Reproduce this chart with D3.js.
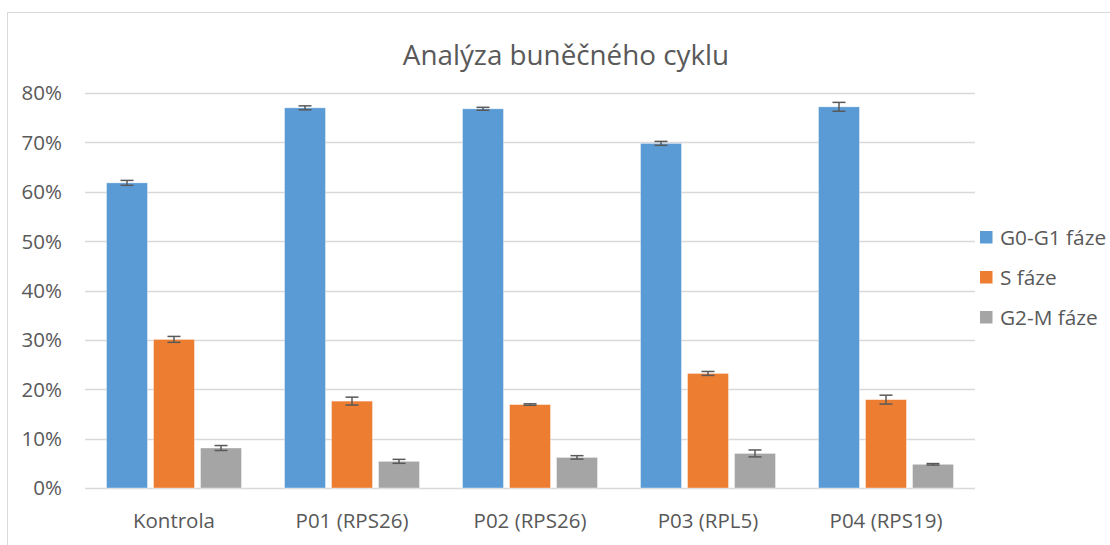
<!DOCTYPE html>
<html><head><meta charset="utf-8">
<script src="https://cdn.jsdelivr.net/npm/d3@7"></script>
<style>body{margin:0;background:#fff}svg{display:block}text{font-family:"Open Sans",Lato,sans-serif}</style>
</head><body>
<svg id="c" width="1110" height="545"></svg>
<script>
const categories = ["Kontrola","P01 (RPS26)","P02 (RPS26)","P03 (RPL5)","P04 (RPS19)"];
const seriesNames = ["G0-G1 fáze","S fáze","G2-M fáze"];
const colors = ["#5b9bd5","#ed7d31","#a5a5a5"];
const g0g1 = [61.8,77.0,76.8,69.8,77.2];
const sPhase = [30.1,17.6,16.9,23.2,17.9];
const g2m = [8.1,5.4,6.2,7.0,4.8];
const g0g1Err = [0.5,0.4,0.3,0.4,0.9];
const sErr = [0.6,0.8,0.15,0.4,0.9];
const g2mErr = [0.5,0.4,0.35,0.7,0.15];
const yTicks = [0,10,20,30,40,50,60,70,80];

const values = [g0g1, sPhase, g2m];
const errs = [g0g1Err, sErr, g2mErr];
const svg = d3.select("#c");
const L=85,R=975,T=93,B=488;

svg.append("rect").attr("x",7.5).attr("y",12.5).attr("width",1120).attr("height",560)
  .attr("fill","none").attr("stroke","#d9d9d9");

const y = d3.scaleLinear().domain([0,80]).range([B,T]);
const x0 = d3.scaleBand().domain(categories).range([L,R]).paddingInner(0.2416).paddingOuter(0.1208);
const x1 = d3.scaleBand().domain(d3.range(3)).range([0,x0.bandwidth()]).paddingInner(0.128);

// grid
svg.append("g").selectAll("line").data(yTicks).join("line")
  .attr("x1",L).attr("x2",R).attr("y1",d=>Math.round(y(d))+0.5).attr("y2",d=>Math.round(y(d))+0.5)
  .attr("stroke","#d9d9d9").attr("stroke-width",1.3);
// y labels
svg.append("g").selectAll("text").data(yTicks).join("text")
  .attr("x",62).attr("y",d=>y(d)).attr("dy","0.36em").attr("text-anchor","end")
  .attr("fill","#595959").attr("font-size",20.5).text(d=>d+"%");

// bars
const groups = svg.append("g").selectAll("g").data(categories).join("g")
  .attr("transform",c=>`translate(${x0(c)},0)`);
groups.each(function(c,i){
  const g=d3.select(this);
  for(let s=0;s<3;s++){
    const v=values[s][i], e=errs[s][i], cx=x1(s)+x1.bandwidth()/2;
    g.append("rect").attr("x",x1(s)).attr("width",x1.bandwidth())
      .attr("y",y(v)).attr("height",y(0)-y(v)).attr("fill",colors[s])
      .attr("stroke","#fff").attr("stroke-opacity",0.5).attr("stroke-width",0.75);
    const ey1=y(v+e), ey2=y(v-e);
    g.append("line").attr("x1",cx).attr("x2",cx).attr("y1",ey1).attr("y2",ey2).attr("stroke","#595959").attr("stroke-width",1.5);
    [ey1,ey2].forEach(yy=>g.append("line").attr("x1",cx-6.5).attr("x2",cx+6.5).attr("y1",yy).attr("y2",yy).attr("stroke","#595959").attr("stroke-width",1.5));
  }
});

// category labels
svg.append("g").selectAll("text").data(categories).join("text")
  .attr("x",c=>x0(c)+x0.bandwidth()/2).attr("y",521).attr("dy","0.36em").attr("text-anchor","middle")
  .attr("fill","#595959").attr("font-size",20.5).text(d=>d);

// title
svg.append("text").attr("x",566).attr("y",55).attr("dy","0.36em").attr("text-anchor","middle")
  .attr("fill","#595959").attr("font-size",27.8).text("Analýza buněčného cyklu");

// legend
const lg = svg.append("g").selectAll("g").data(seriesNames).join("g")
  .attr("transform",(d,i)=>`translate(980,${237+i*40})`);
lg.append("rect").attr("x",0).attr("y",-6).attr("width",12.5).attr("height",12.5).attr("fill",(d,i)=>colors[i]);
lg.append("text").attr("x",20).attr("y",0).attr("dy","0.36em").attr("fill","#595959").attr("font-size",20.8).text(d=>d);
</script>
</body></html>
